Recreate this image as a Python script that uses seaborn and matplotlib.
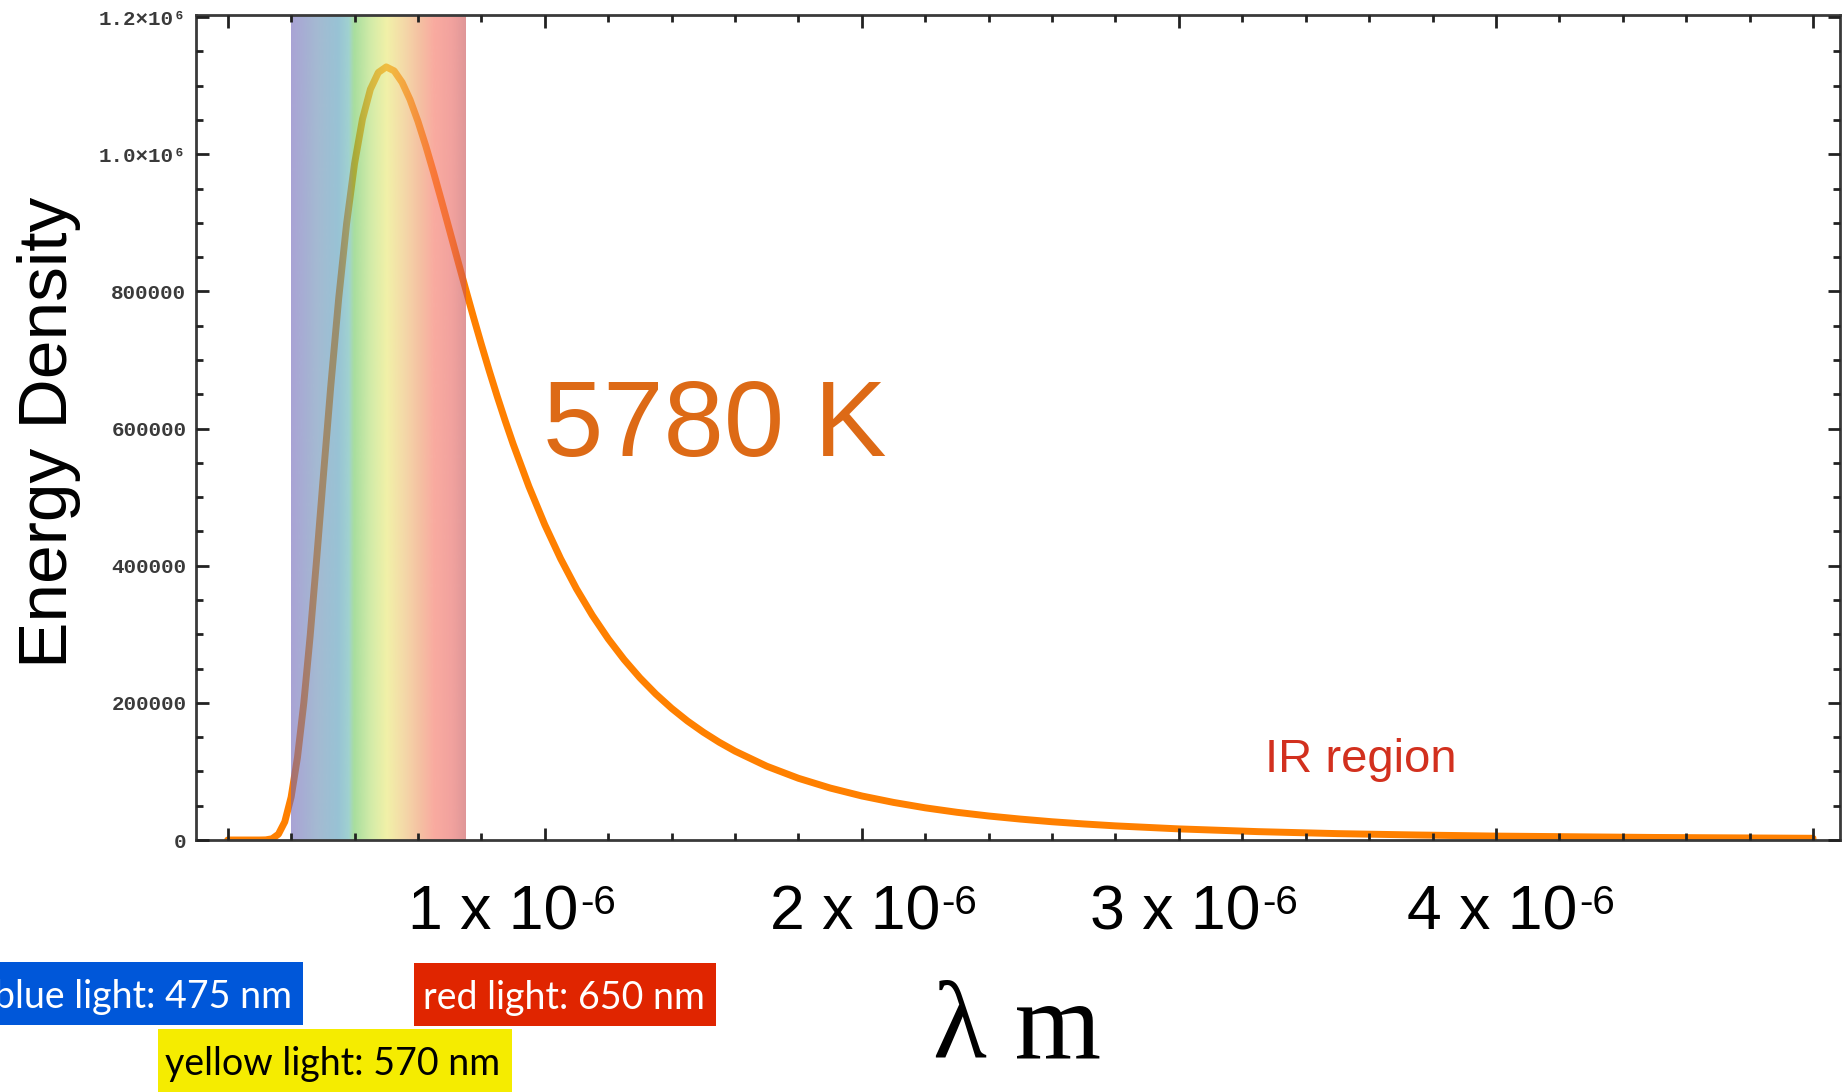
import numpy as np
import pandas as pd
import matplotlib
matplotlib.use("Agg")
import matplotlib.pyplot as plt
import matplotlib.transforms as mtransforms
from matplotlib.colors import LinearSegmentedColormap, to_rgb
from matplotlib.patches import Rectangle
from matplotlib.ticker import MultipleLocator, FixedLocator
import seaborn as sns

# wavelength (micrometres) and energy density
wavelength_um = [0.0, 0.10, 0.12, 0.14, 0.16, 0.18, 0.20, 0.22, 0.24, 0.26, 0.28,
                 0.30, 0.325, 0.35, 0.375, 0.40, 0.425, 0.45, 0.475, 0.50, 0.525,
                 0.55, 0.575, 0.60, 0.625, 0.65, 0.675, 0.70, 0.725, 0.75, 0.775,
                 0.80, 0.825, 0.85, 0.875, 0.90, 0.95, 1.0, 1.05, 1.1, 1.15,
                 1.2, 1.25, 1.3, 1.35, 1.4, 1.45, 1.5, 1.55, 1.6, 1.7, 1.8, 1.9,
                 2.0, 2.1, 2.2, 2.3, 2.4, 2.5, 2.6, 2.7, 2.8, 3.0, 3.25,
                 3.5, 3.75, 4.0, 4.5, 5.0]
energy = [0, 0, 200, 1800, 8500, 26500, 62500, 120300, 199900, 297500, 406900,
          521300, 661500, 789600, 898800, 986100, 1051100, 1094700, 1119200, 1127300, 1121500,
          1104700, 1079600, 1047900, 1011600, 972200, 930800, 888500, 846000, 803900, 762700,
          722600, 684000, 646900, 611500, 577700, 515400, 459700, 410200, 366300, 327600,
          293400, 263200, 236500, 212900, 192000, 173500, 157200, 142600, 129600, 107600, 90000, 75800,
          64200, 54800, 46900, 40400, 35000, 30500, 26600, 23400, 20600, 16200, 12200,
          9300, 7300, 5700, 3700, 2500]

visible_band_um = (0.2, 0.75)
x_tick_vals = [1, 2, 3, 4]
y_tick_vals = [0, 200000, 400000, 600000, 800000, 1000000, 1200000]
y_tick_labels = ["0", "200000", "400000", "600000", "800000", "1.0×10⁶", "1.2×10⁶"]
light_labels = ["blue light: 475 nm", "yellow light: 570 nm", "red light: 650 nm"]

df = pd.DataFrame({"lam": np.array(wavelength_um) * 1e-6, "u": energy})

sns.set_theme(style="white")
plt.rcParams["font.family"] = ["Liberation Sans", "DejaVu Sans"]

W, H = 1844, 1092
fig = plt.figure(figsize=(W / 100, H / 100), dpi=100)
ax = fig.add_axes([196 / W, 1 - 840 / H, (1840 - 196) / W, (840 - 15) / H])

sns.lineplot(data=df, x="lam", y="u", ax=ax, color="#ff8000", lw=5, zorder=2,
             solid_joinstyle="round", solid_capstyle="round")

# rainbow band over the visible range, semi transparent so the curve shows through
alpha = 0.6
stops = [(0.00, "#a9a3d5"), (0.15, "#a4bad2"), (0.27, "#98c3d5"), (0.33, "#a0d2d0"),
         (0.36, "#a8de9e"), (0.46, "#d4eca8"), (0.55, "#f2f1a8"), (0.65, "#f4d8a8"),
         (0.74, "#f5c0a2"), (0.82, "#f9aba0"), (0.92, "#f2a29e"), (1.00, "#e09798")]
base = [(p, tuple(np.clip((np.array(to_rgb(c)) - (1 - alpha)) / alpha, 0, 1))) for p, c in stops]
cmap = LinearSegmentedColormap.from_list("band", base)
grad = cmap(np.linspace(0, 1, 512))[None, :, :]
grad[..., 3] = alpha
ax.imshow(grad, extent=[visible_band_um[0] * 1e-6, visible_band_um[1] * 1e-6, 0, 1.203e6],
          aspect="auto", zorder=2.2, interpolation="bilinear")

ax.set_xlim(-0.1e-6, 5.085e-6)
ax.set_ylim(0, 1.203e6)
ax.set_axisbelow(False)
ax.set_xlabel("")
ax.set_ylabel("")

ax.xaxis.set_major_locator(MultipleLocator(1e-6))
ax.xaxis.set_minor_locator(MultipleLocator(0.2e-6))
ax.yaxis.set_major_locator(FixedLocator(y_tick_vals))
ax.yaxis.set_minor_locator(MultipleLocator(50000))
ax.set_yticklabels(y_tick_labels)
for lab in ax.get_yticklabels():
    lab.set_family(["Liberation Mono", "DejaVu Sans Mono"])
    lab.set_fontweight("bold")
    lab.set_fontsize(15)
    lab.set_color("#3a3a3a")
ax.tick_params(which="both", direction="in", top=True, right=True, bottom=True, left=True,
               labelbottom=False, color="#222222", width=2)
ax.tick_params(which="major", length=9, pad=7)
ax.tick_params(which="minor", length=5)
for s in ax.spines.values():
    s.set_color("#3a3a3a")
    s.set_linewidth(2)

# big x labels under the axis
tr = mtransforms.blended_transform_factory(ax.transData, ax.transAxes)
label_shift = [-0.43, -0.29, -0.28, -0.28]
for v, sh in zip(x_tick_vals, label_shift):
    t = ax.text((v + sh) * 1e-6, -0.109, f"{v} x 10", transform=tr, ha="left",
                va="baseline", fontsize=45, color="black")
    ax.annotate("-6", xy=(1, 1), xycoords=t, xytext=(1, 0), textcoords="offset points",
                ha="left", va="top", fontsize=29, color="black")

ax.text(0.994e-6, 560600, "5780 K", fontsize=78, color="#dd6a16", ha="left", va="baseline")
ax.text(3.271e-6, 99000, "IR region", fontsize=34, color="#d2301e", ha="left", va="baseline")

fig.text(49 / W, 1 - 432 / H, "Energy Density", rotation=90, ha="center", va="center",
         fontsize=50, color="black")
fig.text(1017 / W, 1 - 1058 / H, "λ m", ha="center", va="baseline", fontsize=80,
         family=["Liberation Serif", "DejaVu Serif"], color="black")

# coloured wavelength boxes
boxes = [(0, 962, 303, 1025, "#0057d9", "white", -6),
         (158, 1029, 512, 1092, "#f5ec00", "black", 165),
         (414, 963, 716, 1026, "#e02500", "white", 423)]
for lbl, (x0, y0, x1, y1, bg, fg, tx) in zip(light_labels, boxes):
    fig.add_artist(Rectangle((x0 / W, 1 - y1 / H), (x1 - x0) / W, (y1 - y0) / H,
                             transform=fig.transFigure, facecolor=bg, edgecolor="none"))
    fig.text(tx / W, 1 - (y0 + y1) / 2 / H - 0.003, lbl, ha="left", va="center", fontsize=27,
             color=fg, family=["Lato", "DejaVu Sans"])

fig.savefig("out.png", dpi=100)
